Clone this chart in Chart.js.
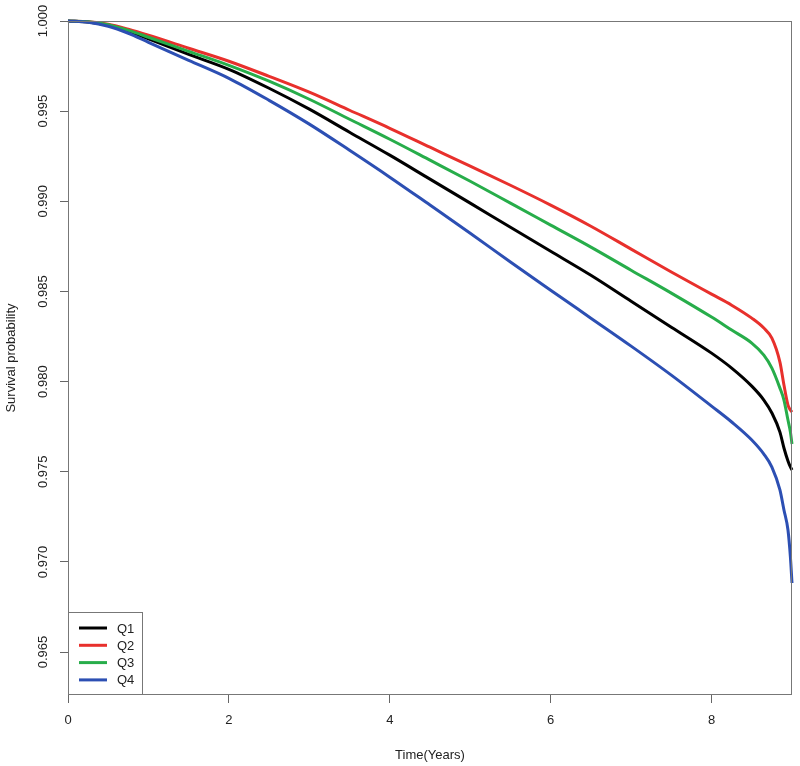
<!DOCTYPE html>
<html>
<head>
<meta charset="utf-8">
<title>Survival probability</title>
<script src="https://cdn.jsdelivr.net/npm/chart.js@4/dist/chart.umd.min.js"></script>
<style>
  body { margin: 0; background: #fff; }
  #wrap { width: 800px; height: 766px; position: relative; }
</style>
</head>
<body>
<div id="wrap"><canvas id="chart"></canvas></div>
<script>
// time points (years)
const timeYears = [0, 0.25, 0.5, 0.75, 1, 1.5, 2, 2.5, 3, 3.5, 4, 4.5, 5, 5.5, 6, 6.5, 7, 7.5, 8, 8.25, 8.5, 8.65, 8.75, 8.85, 8.9, 8.95, 8.98, 9.0];

const q1 = [1.0, 0.99994, 0.99976, 0.99943, 0.99901, 0.99815, 0.99732, 0.99627, 0.99511, 0.99383, 0.99256, 0.99123, 0.9899, 0.98856, 0.98723, 0.9859, 0.98446, 0.98302, 0.98158, 0.98075, 0.97975, 0.97898, 0.97826, 0.9772, 0.97632, 0.9756, 0.97527, 0.9751];
const q2 = [1.0, 0.99996, 0.99982, 0.99954, 0.99921, 0.99849, 0.99777, 0.99693, 0.99605, 0.99505, 0.99405, 0.993, 0.99195, 0.99089, 0.98979, 0.98862, 0.98735, 0.98608, 0.98485, 0.98424, 0.98352, 0.98297, 0.98241, 0.98108, 0.97981, 0.9787, 0.97843, 0.97831];
const q3 = [1.0, 0.99996, 0.99979, 0.99948, 0.9991, 0.99832, 0.99754, 0.99666, 0.99566, 0.99455, 0.99344, 0.99228, 0.99111, 0.9899, 0.98868, 0.98746, 0.98618, 0.98491, 0.98358, 0.98286, 0.98214, 0.98147, 0.98075, 0.97964, 0.97898, 0.97787, 0.97721, 0.97654];
const q4 = [1.0, 0.99993, 0.99971, 0.99932, 0.99882, 0.99782, 0.99682, 0.9956, 0.99428, 0.99283, 0.99134, 0.98979, 0.98823, 0.98663, 0.98507, 0.98352, 0.98197, 0.98036, 0.97864, 0.97776, 0.97676, 0.97598, 0.97526, 0.97399, 0.97288, 0.97177, 0.97028, 0.96883];

const seriesNames = ["Q1", "Q2", "Q3", "Q4"];
const seriesColors = ["#000000", "#e8302c", "#27ad4a", "#2c4fb3"];

const xTickValues = [0, 2, 4, 6, 8];
const yTickValues = [0.965, 0.970, 0.975, 0.980, 0.985, 0.990, 0.995, 1.000];

const FONT = "'Liberation Sans', Arial, sans-serif";

function toPoints(values) {
  return values.map((v, i) => ({ x: timeYears[i], y: v }));
}

const allSeries = [q1, q2, q3, q4];
const datasets = allSeries.map((vals, i) => ({
  label: seriesNames[i],
  data: toPoints(vals),
  borderColor: seriesColors[i],
  backgroundColor: seriesColors[i],
  borderWidth: 3,
  pointRadius: 0,
  cubicInterpolationMode: "monotone",
  fill: false,
  clip: 4,
  order: 4 - i
}));

// box around plot + R style legend in bottom left
const boxAndLegend = {
  id: "boxAndLegend",
  afterDraw(chart) {
    const { ctx, chartArea: a } = chart;
    ctx.save();
    ctx.strokeStyle = "#777";
    ctx.lineWidth = 1;
    ctx.strokeRect(a.left + 0.5, a.top + 0.5, a.right - a.left - 1, a.bottom - a.top - 1);

    const lx = a.left, ly = a.bottom - 83, lw = 74, lh = 83;
    ctx.fillStyle = "#fff";
    ctx.fillRect(lx + 1, ly + 1, lw - 1, lh - 2);
    ctx.strokeRect(lx + 0.5, ly + 0.5, lw, lh - 1);

    ctx.font = "13px " + FONT;
    ctx.textBaseline = "middle";
    ctx.textAlign = "left";
    seriesNames.forEach((name, i) => {
      const y = ly + 16 + i * 17.3;
      ctx.strokeStyle = seriesColors[i];
      ctx.lineWidth = 3;
      ctx.beginPath();
      ctx.moveTo(lx + 11, y);
      ctx.lineTo(lx + 39, y);
      ctx.stroke();
      ctx.fillStyle = "#222";
      ctx.fillText(name, lx + 49, y + 1);
    });
    ctx.restore();
  }
};

new Chart(document.getElementById("chart"), {
  type: "line",
  data: { datasets: datasets },
  options: {
    responsive: true,
    maintainAspectRatio: false,
    animation: false,
    layout: { padding: { top: 21, right: 8, left: 0, bottom: 0 } },
    plugins: {
      legend: { display: false },
      tooltip: { enabled: false }
    },
    scales: {
      x: {
        type: "linear",
        min: 0,
        max: 9,
        afterBuildTicks: (s) => { s.ticks = xTickValues.map(v => ({ value: v })); },
        afterFit: (s) => { s.height = 71; },
        grid: { drawOnChartArea: false, drawTicks: true, tickLength: 8, color: "#666" },
        border: { display: false },
        ticks: {
          color: "#222",
          font: { family: FONT, size: 13 },
          padding: 10,
          maxRotation: 0,
          callback: (v) => String(v)
        },
        title: {
          display: true,
          text: "Time(Years)",
          color: "#222",
          font: { family: FONT, size: 13 },
          padding: { top: 0, bottom: 3 }
        }
      },
      y: {
        type: "linear",
        min: 0.96262,
        max: 1.0,
        afterBuildTicks: (s) => { s.ticks = yTickValues.map(v => ({ value: v })); },
        afterFit: (s) => { s.width = 68; },
        grid: { drawOnChartArea: false, drawTicks: true, tickLength: 8, color: "#666" },
        border: { display: false },
        ticks: {
          color: "#222",
          font: { family: FONT, size: 13 },
          padding: 0,
          minRotation: 90,
          maxRotation: 90,
          crossAlign: "center",
          callback: (v) => v.toFixed(3)
        },
        title: {
          display: true,
          text: "Survival probability",
          color: "#222",
          font: { family: FONT, size: 13 },
          padding: { top: 4, bottom: 0 }
        }
      }
    }
  },
  plugins: [boxAndLegend]
});
</script>
</body>
</html>
